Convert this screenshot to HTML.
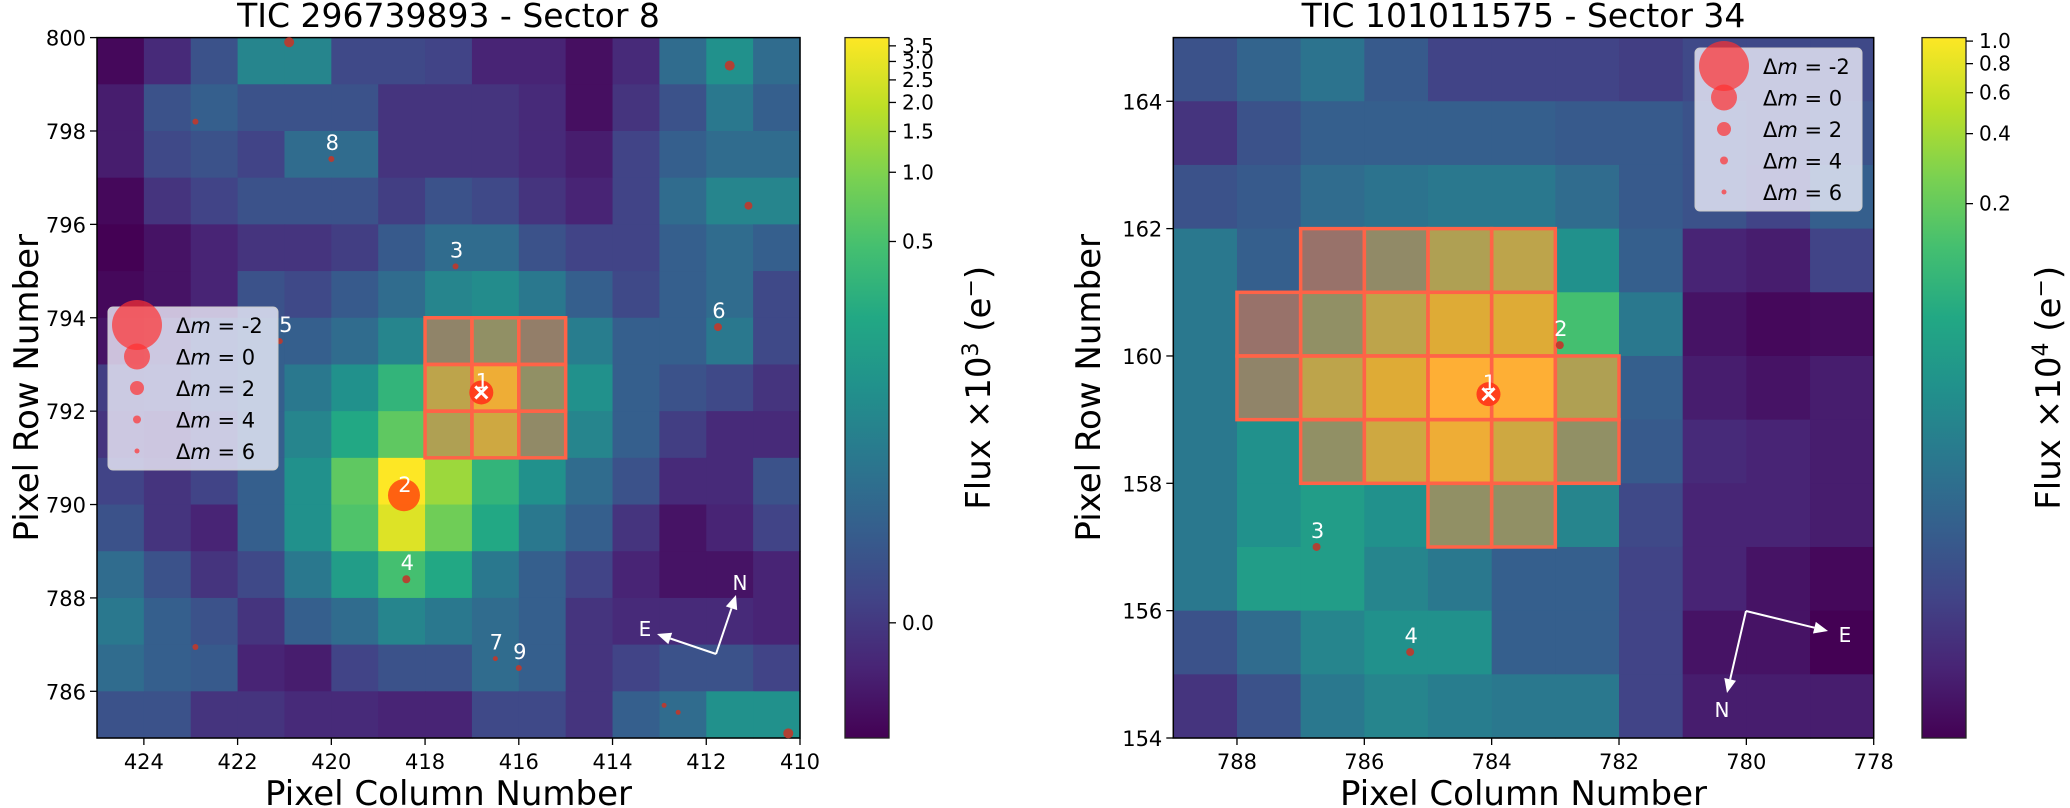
<!DOCTYPE html>
<html><head><meta charset="utf-8"><style>
html,body{margin:0;padding:0;background:#fff;}
svg{display:block;font-family:"DejaVu Sans","Liberation Sans",sans-serif;}
</style></head><body>
<svg id="fig" width="2070" height="808" viewBox="0 0 2070 808" xmlns="http://www.w3.org/2000/svg"></svg>
<script>
// ---------- DATA ----------
const leftCols = [425,424,423,422,421,420,419,418,417,416,415,414,413,412,411];
const leftRows = [800,799,798,797,796,795,794,793,792,791,790,789,788,787,786];
const leftLevels = [
[0.02,0.12,0.25,0.45,0.45,0.22,0.22,0.2,0.1,0.1,0.04,0.12,0.35,0.5,0.35],
[0.08,0.25,0.3,0.25,0.25,0.25,0.15,0.15,0.15,0.12,0.04,0.15,0.25,0.4,0.3],
[0.08,0.22,0.25,0.2,0.35,0.35,0.15,0.15,0.15,0.12,0.08,0.2,0.3,0.35,0.35],
[0.02,0.15,0.2,0.25,0.25,0.25,0.18,0.25,0.22,0.15,0.1,0.2,0.35,0.45,0.45],
[0.0,0.05,0.1,0.15,0.15,0.18,0.28,0.35,0.35,0.25,0.2,0.2,0.3,0.35,0.3],
[0.02,0.05,0.1,0.25,0.22,0.28,0.35,0.45,0.48,0.4,0.3,0.22,0.3,0.35,0.22],
[0.05,0.15,0.25,0.3,0.3,0.35,0.45,0.5,0.6,0.45,0.42,0.3,0.3,0.4,0.22],
[0.18,0.2,0.25,0.3,0.4,0.5,0.65,0.8,0.95,0.6,0.5,0.3,0.25,0.22,0.15],
[0.15,0.12,0.2,0.3,0.45,0.6,0.75,0.75,0.85,0.55,0.45,0.3,0.18,0.12,0.12],
[0.2,0.15,0.2,0.3,0.5,0.75,1.0,0.85,0.65,0.5,0.35,0.25,0.12,0.12,0.25],
[0.25,0.15,0.1,0.3,0.5,0.72,0.95,0.78,0.6,0.4,0.3,0.15,0.05,0.1,0.2],
[0.35,0.25,0.15,0.22,0.4,0.55,0.7,0.6,0.4,0.3,0.2,0.1,0.05,0.05,0.1],
[0.4,0.3,0.25,0.15,0.3,0.35,0.45,0.4,0.35,0.3,0.15,0.12,0.12,0.12,0.1],
[0.35,0.3,0.28,0.1,0.08,0.2,0.25,0.25,0.35,0.3,0.15,0.2,0.25,0.25,0.2],
[0.25,0.25,0.15,0.15,0.12,0.12,0.1,0.1,0.22,0.22,0.15,0.3,0.35,0.5,0.5]];
const leftAperture = [[6,7],[6,8],[6,9],[7,7],[7,8],[7,9],[8,7],[8,8],[8,9]];
const leftStarCol = [416.8,418.45,417.35,418.4,421.1,411.75,416.5,420.0,416.0,420.9,411.5,422.9,411.1,422.9,412.9,412.6,410.25];
const leftStarRow = [792.4,790.2,795.1,788.4,793.5,793.8,786.7,797.4,786.5,799.9,799.4,798.2,796.4,786.95,785.7,785.55,785.1];
const leftStarR   = [12,16,3,4,3,4,2.5,3,3,5,5,3,4,3,2.5,2.5,5];
const leftStarLbl = ["1","2","3","4","5","6","7","8","9","","","","","","","",""];
const leftXTicks = [424,422,420,418,416,414,412,410];
const leftYTicks = [800,798,796,794,792,790,788,786];
const leftCbTicks = [0.0,0.5,1.0,1.5,2.0,2.5,3.0,3.5];
const leftCbLabels = ["0.0","0.5","1.0","1.5","2.0","2.5","3.0","3.5"];

const rightCols = [789,788,787,786,785,784,783,782,781,780,779];
const rightRows = [165,164,163,162,161,160,159,158,157,156,155];
const rightLevels = [
[0.25,0.32,0.38,0.28,0.2,0.2,0.2,0.18,0.22,0.22,0.22],
[0.15,0.25,0.3,0.3,0.3,0.3,0.28,0.28,0.25,0.22,0.25],
[0.25,0.28,0.35,0.38,0.4,0.4,0.35,0.28,0.25,0.2,0.3],
[0.4,0.3,0.35,0.55,0.75,0.8,0.5,0.3,0.1,0.08,0.2],
[0.4,0.35,0.6,0.8,0.9,0.9,0.7,0.4,0.05,0.02,0.03],
[0.4,0.5,0.8,0.9,1.0,1.0,0.75,0.3,0.08,0.05,0.08],
[0.4,0.5,0.6,0.85,0.95,0.85,0.6,0.28,0.12,0.1,0.08],
[0.4,0.5,0.55,0.5,0.6,0.6,0.45,0.22,0.1,0.1,0.08],
[0.4,0.55,0.55,0.45,0.4,0.3,0.3,0.2,0.1,0.05,0.02],
[0.25,0.35,0.45,0.5,0.5,0.3,0.3,0.2,0.05,0.05,0.0],
[0.15,0.25,0.4,0.45,0.42,0.4,0.4,0.2,0.08,0.08,0.08]];
const rightAperture = [[3,2],[3,3],[3,4],[3,5],[4,1],[4,2],[4,3],[4,4],[4,5],[5,1],[5,2],[5,3],[5,4],[5,5],[5,6],[6,2],[6,3],[6,4],[6,5],[6,6],[7,4],[7,5]];
const rightStarCol = [784.05,782.93,786.75,785.28];
const rightStarRow = [159.4,160.17,157.0,155.35];
const rightStarR = [12,4,4,4];
const rightStarLbl = ["1","2","3","4"];
const rightXTicks = [788,786,784,782,780,778];
const rightYTicks = [164,162,160,158,156,154];
const rightCbTicks = [0.2,0.4,0.6,0.8,1.0];
const rightCbLabels = ["0.2","0.4","0.6","0.8","1.0"];

const legendMags = ["-2","0","2","4","6"];
const legendR = [25,13,7,4,2.5];

// ---------- HELPERS ----------
const NS="http://www.w3.org/2000/svg";
const svg=document.getElementById('fig');
function mk(tag,attrs,parent){const e=document.createElementNS(NS,tag);for(const k in attrs)e.setAttribute(k,attrs[k]);(parent||svg).appendChild(e);return e;}
const VIR=[[68,1,84],[72,36,117],[65,68,135],[53,95,141],[42,120,142],[33,145,140],[34,168,132],[68,191,112],[122,209,81],[189,223,38],[253,231,37]];
function viridis(t){t=Math.max(0,Math.min(1,t));const f=t*10,i=Math.min(9,Math.floor(f)),u=f-i;const a=VIR[i],b=VIR[i+1];return `rgb(${Math.round(a[0]+(b[0]-a[0])*u)},${Math.round(a[1]+(b[1]-a[1])*u)},${Math.round(a[2]+(b[2]-a[2])*u)})`;}
const defs=mk('defs',{});
const grad=mk('linearGradient',{id:'vir',x1:0,y1:1,x2:0,y2:0},defs);
for(let i=0;i<=10;i++){mk('stop',{offset:i/10,'stop-color':viridis(i/10)},grad);}

function panel(o){
  const g=mk('g',{});
  
  
  const nC=o.cols.length,nR=o.rows.length;
  const cw=o.w/nC,ch=o.h/nR;
  const X=v=>o.x+(o.cols[0]-v)/nC*o.w;
  const Y=v=>o.y+(o.rows[0]-v)/nR*o.h;
  o.levels.forEach((row,r)=>row.forEach((v,c)=>{
    const e=mk('rect',{x:X(o.cols[c]),y:Y(o.rows[r]),width:cw+0.6,height:ch+0.6,fill:viridis(v)},g);
    
    
  }));
  o.aperture.forEach(([r,c])=>{
    const e=mk('rect',{x:X(o.cols[c]),y:Y(o.rows[r]),width:cw,height:ch,fill:'rgba(255,120,70,0.5)',stroke:'#ff6347','stroke-width':3.5},g);
    
    
  });
  mk('rect',{x:o.x,y:o.y,width:o.w,height:o.h,fill:'none',stroke:'#000','stroke-width':1.5},g);
  // stars
  o.sc.forEach((c,i)=>{
    const cx=X(c),cy=Y(o.sr[i]);
    const col=i===0?'#ff3a1a':(i===1&&o.big2?'#ff5a10':'#c0392b');
    const e=mk('circle',{cx,cy,r:o.srad[i],fill:col,'fill-opacity':i<2?0.95:0.9},g);
    
    
    if(i===0){
      mk('path',{d:`M${cx-6},${cy-6}L${cx+6},${cy+6}M${cx+6},${cy-6}L${cx-6},${cy+6}`,stroke:'#fff','stroke-width':3},g);
    }
    if(o.slbl[i]){
      const t=mk('text',{x:cx+(o.slbl[i]==='5'?6:1),y:cy-(i===0?4:i===1&&o.big2?3:9),'font-size':21,fill:'#fff','text-anchor':'middle'},g);
      t.textContent=o.slbl[i];
      
      
    }
  });
  // ticks
  o.xt.forEach(v=>{
    const x=X(v);mk('line',{x1:x,y1:o.y+o.h,x2:x,y2:o.y+o.h+7,stroke:'#000','stroke-width':1.3},g);
    const t=mk('text',{x,y:o.y+o.h+31,'font-size':21,'text-anchor':'middle'},g);t.textContent=v;
    
    
  });
  o.yt.forEach(v=>{
    const y=Y(v);mk('line',{x1:o.x-7,y1:y,x2:o.x,y2:y,stroke:'#000','stroke-width':1.3},g);
    const t=mk('text',{x:o.x-11,y:y+8,'font-size':21,'text-anchor':'end'},g);t.textContent=v;
    
    
  });
  const xl=mk('text',{x:o.x+o.w/2,y:805,'font-size':34,'text-anchor':'middle'},g);xl.textContent='Pixel Column Number';
  
  
  const yl=mk('text',{x:0,y:0,'font-size':34,'text-anchor':'middle',transform:`translate(${o.ylx},${o.y+o.h/2}) rotate(-90)`},g);yl.textContent='Pixel Row Number';
  
  
  const ti=mk('text',{x:o.x+o.w/2,y:27,'font-size':33,'text-anchor':'middle'},g);ti.textContent=o.title;
  
  
  // legend
  const lg=mk('g',{},g);
  
  
  mk('rect',{x:o.lx,y:o.ly,width:o.lw,height:163,rx:5,fill:'rgba(238,238,250,0.8)',stroke:'#ccc','stroke-width':1},lg);
  legendMags.forEach((m,i)=>{
    const cy=o.ly+18+i*31.5;
    mk('circle',{cx:o.lx+29,cy,r:legendR[i],fill:'#ff3030','fill-opacity':0.7},lg);
    const t=mk('text',{x:o.lx+68,y:cy+8,'font-size':21},lg);
    t.innerHTML=`Δ<tspan font-style="italic">m</tspan> =  ${m}`;
    
    
  });
  // compass
  const cp=mk('g',{},g);
  
  
  const c=o.comp;
  [[c.nx,c.ny],[c.ex,c.ey]].forEach(([tx,ty])=>{
    const dx=tx-c.ox,dy=ty-c.oy,L=Math.hypot(dx,dy),ux=dx/L,uy=dy/L;
    const bx=tx-ux*14,by=ty-uy*14;
    mk('line',{x1:c.ox,y1:c.oy,x2:bx,y2:by,stroke:'#fff','stroke-width':2},cp);
    mk('polygon',{points:`${tx},${ty} ${bx-uy*6},${by+ux*6} ${bx+uy*6},${by-ux*6}`,fill:'#fff'},cp);
  });
  const nt=mk('text',{x:c.nlx,y:c.nly+8,'font-size':20,fill:'#fff','text-anchor':'middle'},cp);nt.textContent='N';
  const et=mk('text',{x:c.elx,y:c.ely+8,'font-size':20,fill:'#fff','text-anchor':'middle'},cp);et.textContent='E';
  // colorbar
  const cb=mk('g',{},g);
  
  
  mk('rect',{x:o.cbx,y:o.y,width:44,height:o.h,fill:'url(#vir)',stroke:'#222','stroke-width':1.3},cb);
  o.cbt.forEach((v,i)=>{
    const y=o.y+o.h*(1-o.norm(v));
    mk('line',{x1:o.cbx+44,y1:y,x2:o.cbx+51,y2:y,stroke:'#000','stroke-width':1.3},cb);
    const t=mk('text',{x:o.cbx+57,y:y+7,'font-size':20},cb);t.textContent=o.cbl[i];
    
    
  });
  const cl=mk('text',{x:0,y:0,'font-size':34,'text-anchor':'middle',transform:`translate(${o.cblx},${o.y+o.h/2}) rotate(-90)`},cb);
  cl.innerHTML=`Flux ×10<tspan dy="-12" font-size="22">${o.exp}</tspan><tspan dy="12"> (e</tspan><tspan dy="-12" font-size="22">−</tspan><tspan dy="12">)</tspan>`;
  
  
}

panel({name:'left-panel',title:'TIC 296739893 - Sector 8',x:97,y:37.6,w:703,h:700.4,
  cols:leftCols,rows:leftRows,levels:leftLevels,aperture:leftAperture,
  sc:leftStarCol,sr:leftStarRow,srad:leftStarR,slbl:leftStarLbl,big2:true,
  xt:leftXTicks,yt:leftYTicks,ylx:38,lx:108,ly:307,lw:170,
  comp:{ox:716,oy:654,nx:736,ny:595,ex:657,ey:634,nlx:740,nly:582,elx:645,ely:628},
  cbx:845,cbt:leftCbTicks,cbl:leftCbLabels,norm:v=>0.806+0.334*Math.log10(v+0.012),cblx:990,exp:'3'});
panel({name:'right-panel',title:'TIC 101011575 - Sector 34',x:1173.3,y:37.6,w:700.4,h:700.4,
  cols:rightCols,rows:rightRows,levels:rightLevels,aperture:rightAperture,
  sc:rightStarCol,sr:rightStarRow,srad:rightStarR,slbl:rightStarLbl,big2:false,
  xt:rightXTicks,yt:rightYTicks,ylx:1100,lx:1695,ly:48,lw:167,
  comp:{ox:1746,oy:611,nx:1727,ny:693,ex:1828,ey:631,nlx:1722,nly:709,elx:1845,ely:634},
  cbx:1922,cbt:rightCbTicks,cbl:rightCbLabels,norm:v=>0.995+0.332*Math.log10(v),cblx:2060,exp:'4'});
</script>
</body></html>
